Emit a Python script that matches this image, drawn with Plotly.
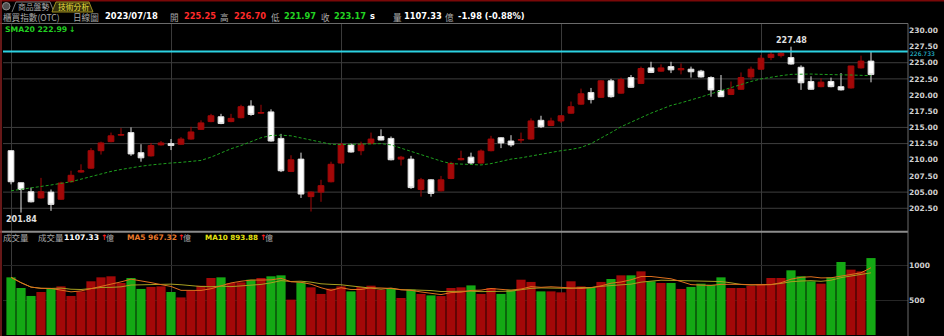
import plotly.graph_objects as go
import pandas as pd

# ---------------- data ----------------
opens = [211.4, 206.45, 205.06, 204.1, 205.0, 203.9, 206.6, 208.1, 208.7, 211.4,
         212.8, 213.8, 214.2, 211.1, 210.6, 212.3, 212.5, 212.4, 213.2, 214.7,
         215.9, 216.65, 215.9, 216.5, 218.3, 217.2, 217.4, 213.3, 208.2, 210.1,
         204.3, 205.0, 206.6, 209.5, 212.3, 211.4, 212.5, 213.6, 213.3, 210.1,
         210.1, 205.4, 206.9, 205.2, 207.1, 210.0, 210.4, 209.5, 211.4, 213.4,
         212.9, 213.05, 213.2, 216.1, 215.3, 216.0, 217.2, 218.6, 220.4, 219.65,
         222.2, 220.3, 222.7, 221.8, 224.2, 223.7, 224.4, 223.9, 224.0, 223.7,
         222.7, 220.7, 220.1, 220.9, 222.8, 224.0, 225.8, 226.1, 225.8, 224.3,
         222.1, 221.3, 222.1, 221.3, 221.1, 224.2, 225.25]
highs = [211.5, 206.5, 205.7, 207.2, 205.4, 206.6, 208.3, 209.3, 211.8, 212.8,
         214.2, 214.9, 215.0, 212.4, 212.6, 212.9, 213.2, 213.5, 215.1, 216.1,
         217.1, 217.1, 217.1, 218.5, 219.2, 218.5, 217.8, 214.0, 210.7, 211.1,
         205.1, 206.9, 209.7, 212.6, 212.5, 212.8, 214.2, 214.7, 213.6, 210.6,
         210.6, 207.2, 207.0, 207.5, 209.7, 211.4, 211.1, 211.6, 213.7, 213.5,
         213.8, 214.2, 216.4, 216.8, 216.5, 216.9, 219.0, 221.0, 221.1, 222.3,
         222.5, 222.7, 223.1, 224.4, 225.15, 224.75, 225.15, 224.9, 224.4, 223.9,
         222.9, 223.1, 222.1, 223.5, 224.4, 226.2, 226.7, 226.8, 227.48, 224.6,
         222.9, 222.6, 222.7, 223.4, 224.5, 226.1, 226.70]
lows = [206.2, 201.84, 203.4, 204.0, 202.1, 203.8, 206.5, 208.0, 208.6, 210.8,
        212.7, 213.7, 210.6, 209.7, 210.5, 212.2, 211.5, 212.3, 213.1, 214.6,
        215.8, 215.5, 215.8, 216.4, 216.8, 217.1, 212.8, 208.1, 208.1, 204.1,
        202.0, 203.5, 206.5, 209.4, 211.1, 210.7, 212.4, 213.0, 209.9, 209.1,
        205.5, 204.3, 204.3, 205.1, 207.0, 209.9, 209.3, 209.4, 211.3, 211.8,
        212.0, 212.6, 213.1, 214.9, 215.2, 215.7, 217.1, 218.5, 218.7, 219.55,
        219.6, 220.2, 221.1, 221.7, 223.4, 223.6, 223.4, 223.2, 222.7, 222.7,
        219.75, 219.7, 220.0, 220.8, 222.4, 223.9, 225.4, 225.8, 224.7, 220.8,
        220.8, 221.2, 221.2, 220.7, 221.0, 224.1, 221.97]
closes = [206.6, 205.4, 203.5, 205.06, 203.1, 206.4, 207.6, 208.3, 211.4, 212.6,
          213.7, 213.9, 210.9, 210.3, 212.2, 212.6, 212.2, 213.2, 214.3, 215.7,
          216.8, 215.6, 216.4, 218.2, 217.0, 217.3, 212.9, 208.3, 210.0, 204.7,
          205.0, 206.0, 209.3, 212.4, 211.2, 212.4, 213.2, 213.05, 210.0, 210.4,
          205.7, 206.9, 204.8, 206.9, 209.45, 210.2, 209.5, 211.35, 213.2, 212.6,
          212.3, 213.1, 216.0, 215.1, 216.0, 216.8, 218.2, 220.2, 219.3, 222.2,
          219.75, 222.4, 221.2, 224.1, 223.5, 224.2, 223.9, 224.1, 223.6, 222.8,
          220.8, 219.75, 220.9, 222.7, 224.0, 225.7, 226.3, 226.45, 224.8, 221.9,
          220.9, 222.0, 221.3, 220.8, 224.5, 225.25, 223.17]
sma20 = [205.2, 205.4, 205.65, 205.9, 206.1, 206.35, 206.6, 207.0, 207.4, 207.9,
         208.2, 208.5, 208.8, 209.0, 209.2, 209.4, 209.5, 209.6, 209.75, 209.9,
         210.4, 211.1, 211.7, 212.2, 212.8, 213.4, 213.75, 213.8, 213.7, 213.4,
         213.1, 212.7, 212.4, 212.35, 212.4, 212.45, 212.5, 212.5, 212.3, 211.8,
         211.2, 210.7, 210.2, 209.8, 209.4, 209.3, 209.2, 209.2, 209.4, 209.8,
         210.1, 210.3, 210.6, 210.9, 211.1, 211.4, 211.6, 211.9, 212.5, 213.3,
         214.2, 215.1, 215.8, 216.6, 217.2, 217.8, 218.4, 218.8, 219.2, 219.7,
         220.2, 220.7, 221.2, 221.6, 222.1, 222.5, 222.8, 223.0, 223.2, 223.25,
         223.25, 223.2, 223.2, 223.15, 223.1, 223.05, 222.99]
volumes = [830, 677, 562, 619, 663, 700, 562, 628, 773, 830,
           845, 749, 821, 663, 692, 700, 619, 541, 638, 710,
           821, 830, 749, 758, 796, 821, 845, 859, 509, 758,
           686, 591, 667, 700, 628, 692, 710, 653, 667, 533,
           653, 591, 570, 561, 677, 686, 714, 591, 677, 591,
           653, 796, 764, 628, 628, 614, 773, 700, 686, 764,
           806, 859, 859, 916, 773, 749, 749, 663, 692, 739,
           724, 830, 677, 677, 710, 735, 821, 821, 931, 845,
           773, 739, 830, 1051, 941, 916, 1107.33]
vol_up = [0, 0, 0, 1, 0, 1, 1, 1, 1, 1, 1, 1, 0, 0, 1, 1, 0, 1, 1, 1,
          1, 0, 1, 1, 0, 1, 0, 0, 1, 0, 1, 1, 1, 1, 0, 1, 1, 1, 0, 1,
          0, 1, 0, 1, 1, 1, 0, 1, 1, 0, 0, 1, 1, 0, 1, 1, 1, 1, 0, 1,
          0, 1, 0, 1, 0, 1, 0, 1, 0, 0, 0, 0, 1, 1, 1, 1, 1, 1, 0, 0,
          0, 1, 0, 0, 1, 1, 0]
month_starts = [0, 16, 33, 55, 75]
price_ticks = [202.5, 205.0, 207.5, 210.0, 212.5, 215.0, 217.5, 220.0, 222.5, 225.0, 227.5, 230.0]
price_grid = [202.5, 205.0, 212.5, 215.0, 222.5, 225.0]
vol_ticks = [500, 1000]
level_line = 226.733
hi_idx, hi_val = 78, 227.48
lo_idx, lo_val = 1, 201.84

idx = list(range(len(opens)))
ma5 = pd.Series(volumes).rolling(5, min_periods=1).mean().tolist()
ma10 = pd.Series(volumes).rolling(10, min_periods=1).mean().tolist()

# ---------------- geometry helpers ----------------
W, H = 944, 336
ML, MR, MT, MB = 3, 36, 23, 1
PW = W - ML - MR
PH = H - MT - MB


def px(xp):
    return (xp - ML) / PW


def py(yp):
    return (H - MB - yp) / PH


split = py(231.7)

RED = '#a30808'
GRN = '#14a814'
CJK = 'Noto Sans CJK TC'
NUM = 'DejaVu Sans'

fig = go.Figure()
fig.add_trace(go.Candlestick(
    x=idx, open=opens, high=highs, low=lows, close=closes,
    xaxis='x', yaxis='y',
    increasing=dict(fillcolor=RED, line=dict(color=RED, width=1)),
    decreasing=dict(fillcolor='#ffffff', line=dict(color='#e0e0e0', width=1)),
    whiskerwidth=0, hoverinfo='skip', showlegend=False))
fig.add_trace(go.Scatter(x=idx, y=sma20, mode='lines', xaxis='x', yaxis='y',
                         line=dict(color='#1e9e1e', width=1, dash='3px,2px'),
                         hoverinfo='skip', showlegend=False))
fig.add_trace(go.Bar(x=idx, y=volumes, xaxis='x', yaxis='y2', width=0.92,
                     marker=dict(color=[RED if u else GRN for u in vol_up], line=dict(width=0)),
                     hoverinfo='skip', showlegend=False))
fig.add_trace(go.Scatter(x=idx, y=ma10, mode='lines', xaxis='x', yaxis='y2',
                         line=dict(color='#a8a020', width=1), hoverinfo='skip', showlegend=False))
fig.add_trace(go.Scatter(x=idx, y=ma5, mode='lines', xaxis='x', yaxis='y2',
                         line=dict(color='#e0701e', width=1), hoverinfo='skip', showlegend=False))

shapes = []
for g in price_grid:
    shapes.append(dict(type='line', xref='paper', yref='y', x0=0, x1=1, y0=g, y1=g,
                       line=dict(color='#3e3e3e', width=1), layer='below'))
shapes.append(dict(type='line', xref='paper', yref='y', x0=0, x1=1, y0=level_line, y1=level_line,
                   line=dict(color='#2cd2e2', width=2)))
# frame lines
shapes += [
    dict(type='line', xref='paper', yref='paper', x0=px(0), x1=px(908), y0=py(23.5), y1=py(23.5),
         line=dict(color='#6a6a6a', width=1)),
    dict(type='line', xref='paper', yref='paper', x0=px(0), x1=px(908), y0=split, y1=split,
         line=dict(color='#8c8c8c', width=2)),
    dict(type='line', xref='paper', yref='paper', x0=px(908), x1=px(908), y0=py(23.5), y1=py(336),
         line=dict(color='#6a6a6a', width=1)),
    dict(type='line', xref='paper', yref='paper', x0=px(0), x1=px(944), y0=py(0.5), y1=py(0.5),
         line=dict(color='#7a0808', width=2)),
    dict(type='line', xref='paper', yref='paper', x0=px(1), x1=px(1), y0=py(0), y1=py(336),
         line=dict(color='#8a2020', width=1.5)),
]


def path(points):
    return 'M ' + ' L '.join(f'{px(a):.5f},{py(b):.5f}' for a, b in points)


shapes.append(dict(type='path', xref='paper', yref='paper', path=path([(12, 12), (16, 2), (50, 2), (54, 12)]),
                   line=dict(color='#7a7a7a', width=1)))
shapes.append(dict(type='path', xref='paper', yref='paper', path=path([(52, 12), (56, 2), (89, 2), (93, 12)]) + ' Z',
                   fillcolor='#34300c', line=dict(color='#a09020', width=1)))
shapes.append(dict(type='circle', xref='paper', yref='paper', x0=px(2.5), x1=px(10), y0=py(2.5), y1=py(10),
                   fillcolor='#505050', line=dict(color='#909090', width=1)))

ann = []


def txt(s, x, y, color, family=NUM, size=8.3, bold=True):
    ann.append(dict(text=s, x=px(x), y=py(y), xref='paper', yref='paper', xanchor='left', yanchor='middle',
                    showarrow=False, borderpad=0,
                    font=dict(family=family, size=size, color=color,
                              weight='bold' if bold else 'normal')))


GRAY = '#a8a8a8'
txt('商品盤勢', 17, 6.5, GRAY, CJK, 7.8, False)
txt('技術分析', 57, 6.5, '#f0e040', CJK, 7.8, False)
txt('櫃買指數(OTC)', 2, 16.5, GRAY, CJK, 8.6, False)
txt('日線圖', 72, 16.5, GRAY, CJK, 8.6, False)
txt('2023/07/18', 104, 16, '#ffffff', NUM, 8.4)
txt('開', 169, 16.5, GRAY, CJK, 8.6, False)
txt('225.25', 183, 16, '#ff2a2a')
txt('高', 219, 16.5, GRAY, CJK, 8.6, False)
txt('226.70', 233, 16, '#ff2a2a')
txt('低', 270, 16.5, GRAY, CJK, 8.6, False)
txt('221.97', 283, 16, '#22d422')
txt('收', 320, 16.5, GRAY, CJK, 8.6, False)
txt('223.17', 333, 16, '#22d422')
txt('s', 369, 16, '#ffffff')
txt('量', 392, 16.5, GRAY, CJK, 8.6, False)
txt('1107.33', 403, 16, '#ffffff')
txt('億', 444, 16.5, GRAY, CJK, 8.6, False)
txt('-1.98 (-0.88%)', 457, 16, '#ffffff')
txt('SMA20 222.99', 4, 29.5, '#22d022', NUM, 7.7)
txt('↓', 68, 29.5, '#22d022', NUM, 7.7)
txt('成交量', 2, 237, GRAY, CJK, 8.5, False)
txt('成交量', 37, 237, GRAY, CJK, 8.5, False)
txt('1107.33', 63, 237, '#ffffff', NUM, 7.7)
txt('↑', 100, 237, '#ff2020', NUM, 7.7)
txt('億', 105, 237, GRAY, CJK, 8, False)
txt('MA5 967.32', 126, 237, '#e8782a', NUM, 7.5)
txt('↑', 177, 237, '#ff2020', NUM, 7.7)
txt('億', 182, 237, GRAY, CJK, 8, False)
txt('MA10 893.88', 204, 237, '#e4e010', NUM, 7.2)
txt('↑', 259, 237, '#ff2020', NUM, 7.7)
txt('億', 264, 237, GRAY, CJK, 8, False)
txt('226.733', 909, 53, '#2cd2e2', NUM, 6.0, False)

ann.append(dict(text=f'{hi_val:.2f}', x=hi_idx, y=hi_val, xref='x', yref='y', xanchor='center',
                yanchor='bottom', showarrow=False, yshift=0,
                font=dict(family=NUM, size=8, color='#e0e0e0', weight='bold')))
ann.append(dict(text=f'{lo_val:.2f}', x=lo_idx, y=lo_val, xref='x', yref='y', xanchor='center',
                yanchor='top', showarrow=False, yshift=0,
                font=dict(family=NUM, size=8, color='#e0e0e0', weight='bold')))

xr0 = (ML - 11) / 10
fig.update_layout(
    width=W, height=H, margin=dict(l=ML, r=MR, t=MT, b=MB),
    paper_bgcolor='#000000', plot_bgcolor='#000000',
    boxgap=0.18, bargap=0.08, showlegend=False,
    xaxis=dict(domain=[0, 1], anchor='y2', range=[xr0, xr0 + PW / 10], rangeslider=dict(visible=False),
               tickvals=month_starts, showticklabels=False, ticks='', showgrid=True,
               gridcolor='#3a3a3a', gridwidth=1, zeroline=False, showline=False, fixedrange=True),
    yaxis=dict(domain=[split, 1], anchor='x', side='right', range=[198.88, 231.14],
               tickvals=price_ticks, ticktext=[f'{v:.2f}' for v in price_ticks],
               tickfont=dict(family=NUM, size=7.5, color='#d0d0d0', weight='bold'),
               showgrid=False, zeroline=False, showline=False, ticks='', fixedrange=True),
    yaxis2=dict(domain=[0, split], anchor='x', side='right', range=[0, 1487],
                tickvals=vol_ticks, ticktext=[str(v) for v in vol_ticks],
                tickfont=dict(family=NUM, size=7.5, color='#d0d0d0', weight='bold'),
                showgrid=True, gridcolor='#262626', zeroline=False, showline=False, ticks='', fixedrange=True),
    shapes=shapes, annotations=ann,
)
fig.write_html('out.html')
